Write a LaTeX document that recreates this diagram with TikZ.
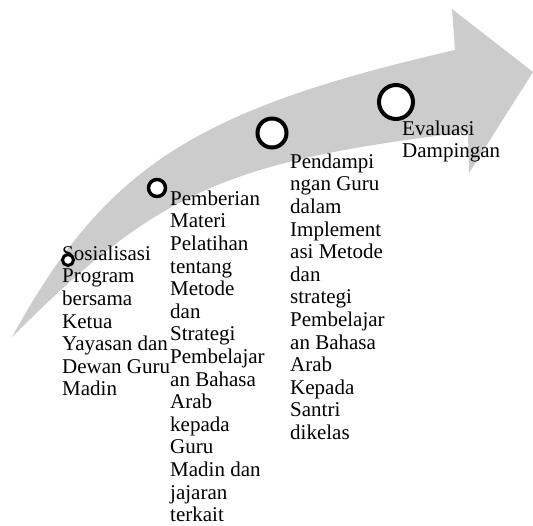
\documentclass[tikz,border=0pt]{standalone}
\usepackage{fontspec}
\setmainfont{Liberation Serif}
\usepackage{tikz}
\usetikzlibrary{arrows}

\begin{document}
\begin{tikzpicture}[x=1pt, y=-1pt,
  stepdot/.style={circle, draw=black, fill=white, line width=4pt, inner sep=0pt},
  steptext/.style={anchor=north west, align=left, inner sep=0pt, font=\fontsize{21}{22.6}\selectfont}]
\useasboundingbox (0,0) rectangle (533,525);

\fill [black!20] (12,337) .. controls (105,168) and (193,110) .. (455,50) -- (452,9) -- (533,72)
  -- (469,173) -- (468,132) .. controls (226,161) and (157,192) .. (12,337) -- cycle;

\node (sos) at (62,245.5) [steptext] {Sosialisasi\\Program\\bersama\\Ketua\\Yayasan dan\\Dewan Guru\\Madin};
\node (mat) at (170,190.5) [steptext] {Pemberian\\Materi\\Pelatihan\\tentang\\Metode\\dan\\Strategi\\Pembelajar\\an Bahasa\\Arab\\kepada\\Guru\\Madin dan\\jajaran\\terkait};
\node (pend) at (290,153.5) [steptext] {Pendampi\\ngan Guru\\dalam\\Implement\\asi Metode\\dan\\strategi\\Pembelajar\\an Bahasa\\Arab\\Kepada\\Santri\\dikelas};
\node (eval) at (402,120.5) [steptext] {Evaluasi\\Dampingan};

\node (c1) at (68,260) [stepdot, minimum size=11pt, line width=3pt] {};
\node (c2) at (157,188) [stepdot, minimum size=17pt, line width=3.5pt] {};
\node (c3) at (272,133) [stepdot, minimum size=29pt] {};
\node (c4) at (396,102) [stepdot, minimum size=34pt] {};
\end{tikzpicture}
\end{document}
